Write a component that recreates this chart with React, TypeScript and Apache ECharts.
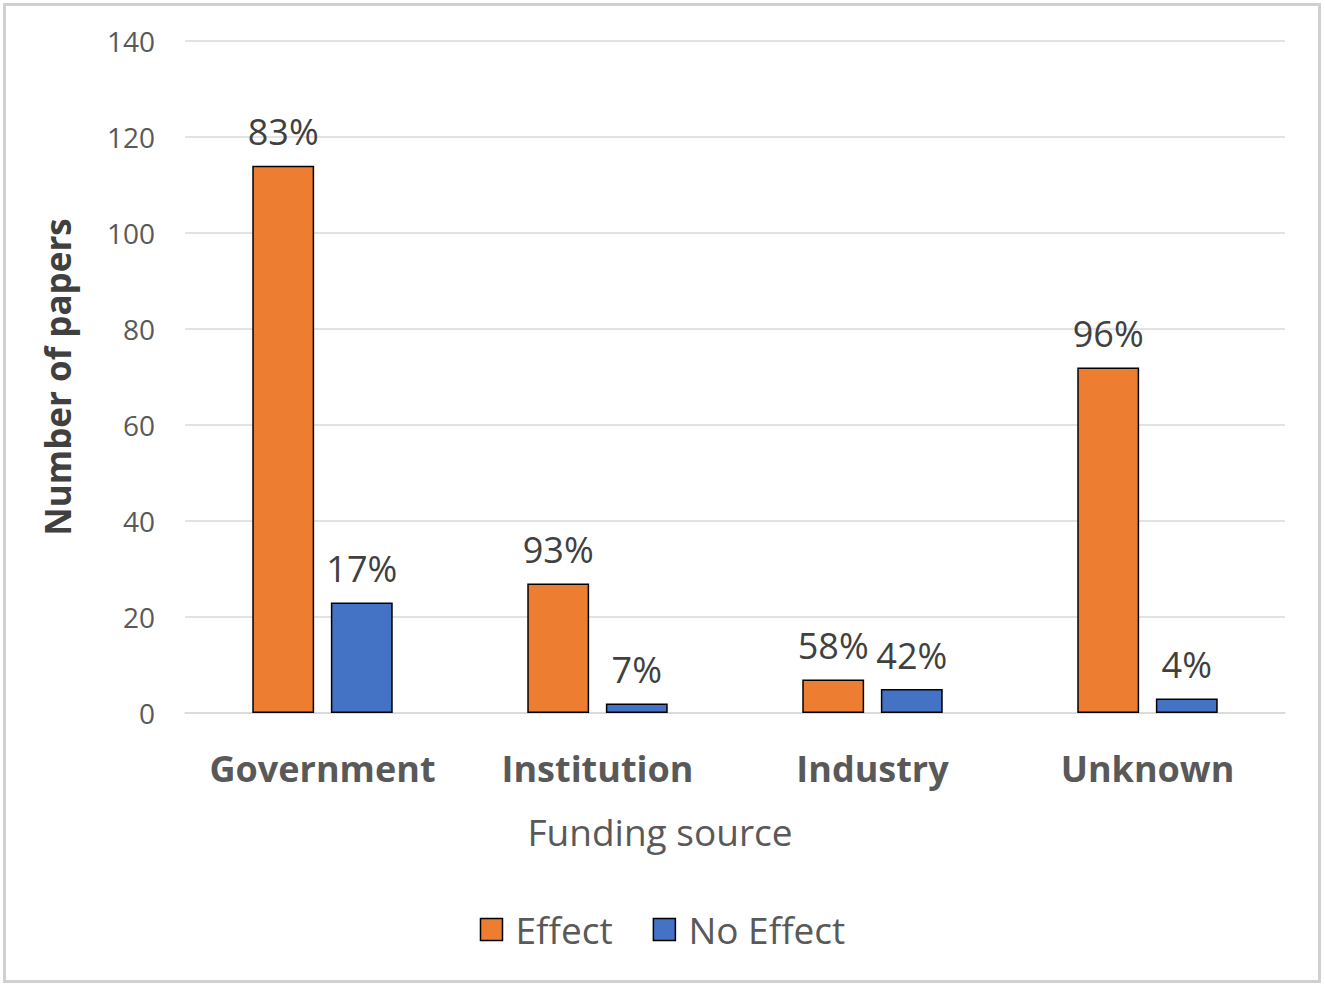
import React, { useEffect, useRef } from "react";
import * as echarts from "echarts";

const categories = ["Government", "Institution", "Industry", "Unknown"];
const effectValues = [114, 27, 7, 72];
const noEffectValues = [23, 2, 5, 3];
const effectLabels = ["83%", "93%", "58%", "96%"];
const noEffectLabels = ["17%", "7%", "42%", "4%"];
const yTicks = { min: 0, max: 140, interval: 20 };

const FONT = "'Open Sans', 'Noto Sans', sans-serif";

export default function App() {
  const ref = useRef<HTMLDivElement>(null);
  useEffect(() => {
    document.body.style.margin = "0";
    const chart = echarts.init(ref.current!, undefined, { renderer: "svg" });
    chart.setOption({
      animation: false,
      backgroundColor: "#ffffff",
      textStyle: { fontFamily: FONT },
      grid: { left: 185, right: 40, top: 41, bottom: 275 },
      graphic: [
        {
          type: "rect",
          shape: { x: 4.5, y: 4.5, width: 1315, height: 977 },
          style: { fill: "none", stroke: "#d0d0d0", lineWidth: 3 },
          silent: true,
        },
      ],
      legend: {
        data: ["Effect", "No Effect"],
        left: "center",
        top: 906,
        icon: "rect",
        itemWidth: 22,
        itemHeight: 22,
        itemGap: 40,
        textStyle: { fontFamily: FONT, fontSize: 37, color: "#595959", padding: [0, 0, 0, 8] },
        itemStyle: { borderColor: "#000000", borderWidth: 1.5 },
      },
      xAxis: {
        type: "category",
        data: categories,
        name: "Funding source",
        nameLocation: "middle",
        nameGap: 100,
        nameTextStyle: {
          fontFamily: FONT,
          fontSize: 37,
          color: "#595959",
          padding: [0, 150, 0, 0],
        },
        axisLine: { show: true, lineStyle: { color: "#d9d9d9", width: 1.5 } },
        axisTick: { show: false },
        axisLabel: {
          interval: 0,
          fontFamily: FONT,
          fontSize: 36,
          fontWeight: "bold",
          color: "#595959",
          margin: 37,
        },
      },
      yAxis: {
        type: "value",
        min: yTicks.min,
        max: yTicks.max,
        interval: yTicks.interval,
        name: "Number of papers",
        nameLocation: "middle",
        nameGap: 110,
        nameTextStyle: { fontFamily: FONT, fontSize: 35, fontWeight: "bold", color: "#404040" },
        axisLine: { show: false },
        axisTick: { show: false },
        axisLabel: { fontFamily: FONT, fontSize: 28, color: "#595959", margin: 30 },
        splitLine: { lineStyle: { color: "#d9d9d9", width: 1.5 } },
      },
      series: [
        {
          name: "Effect",
          type: "bar",
          data: effectValues,
          barWidth: "22.5%",
          barGap: "27%",
          itemStyle: { color: "#ED7D31", borderColor: "#000000", borderWidth: 1.5 },
          label: {
            show: true,
            position: "top",
            distance: 16,
            fontFamily: FONT,
            fontSize: 36,
            color: "#404040",
            formatter: (p: any) => effectLabels[p.dataIndex],
          },
        },
        {
          name: "No Effect",
          type: "bar",
          data: noEffectValues,
          barWidth: "22.5%",
          barGap: "27%",
          itemStyle: { color: "#4472C4", borderColor: "#000000", borderWidth: 1.5 },
          label: {
            show: true,
            position: "top",
            distance: 16,
            fontFamily: FONT,
            fontSize: 36,
            color: "#404040",
            formatter: (p: any) => noEffectLabels[p.dataIndex],
          },
        },
      ],
    });
    return () => chart.dispose();
  }, []);
  return <div ref={ref} style={{ width: 1325, height: 988 }} />;
}
